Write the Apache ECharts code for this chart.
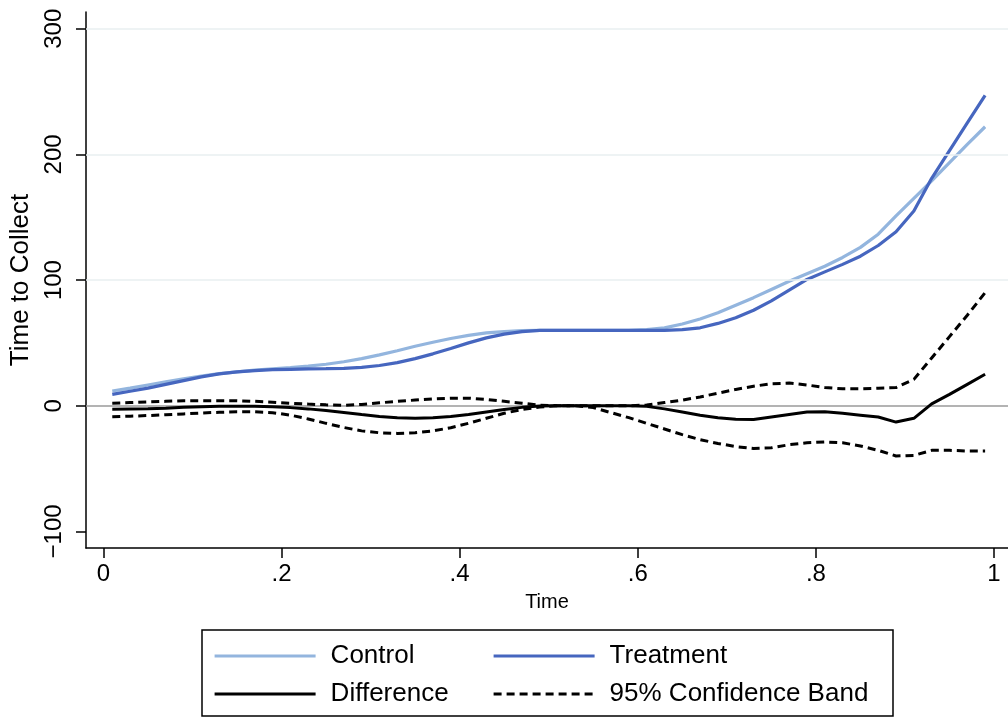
<!DOCTYPE html>
<html>
<head>
<meta charset="utf-8">
<title>Time to Collect</title>
<script src="https://cdn.jsdelivr.net/npm/echarts@6/dist/echarts.min.js"></script>
<style>
  html, body { margin: 0; padding: 0; background: #fff; }
  #chart { width: 1008px; height: 717px; }
</style>
</head>
<body>
<div id="chart"></div>
<script>
// Evaluation points on the time axis
const times = [0.01,0.03,0.05,0.07,0.09,0.11,0.13,0.15,0.17,0.19,
               0.21,0.23,0.25,0.27,0.29,0.31,0.33,0.35,0.37,0.39,
               0.41,0.43,0.45,0.47,0.49,0.51,0.53,0.55,0.57,0.59,
               0.61,0.63,0.65,0.67,0.69,0.71,0.73,0.75,0.77,0.79,
               0.81,0.83,0.85,0.87,0.89,0.91,0.93,0.95,0.97,0.99];

const control = [11.7,14,16.5,19,21.5,23.5,25.5,27,28.3,29.3,
                 30.3,31.5,33,35,37.5,40.5,43.8,47.3,50.5,53.5,
                 56,58,59,59.7,60,60,60,60,60,60,
                 60.5,62,65,69,74,80,86,92.5,99,105,
                 111,118,126,136.5,151,165,179,193.5,208,222];

const treatment = [9,11.5,14,17,20,23,25.3,27,28,28.7,
                   29,29.3,29.5,29.8,30.5,32,34.3,37.5,41.3,45.5,
                   50,54,57,59,60,60,60,60,60,60,
                   60,60,60.5,62,65.5,70,76,83.5,92,100.5,
                   106.5,112.5,119,127.5,138.5,155,181,203,225,247];

const difference = [-2.7,-2.5,-2.3,-2,-1.3,-0.8,-0.5,-0.4,-0.5,-0.8,
                    -1.5,-2.5,-3.8,-5.3,-7,-8.5,-9.5,-10,-9.5,-8.5,
                    -7,-5,-3,-1.3,-0.3,0,0,0,0,0,
                    -0.5,-2.5,-5,-7.5,-9.5,-10.8,-11,-9,-7,-5,
                    -4.8,-6,-7.5,-9,-13,-10,1.5,9,17,25];

const upperBand = [2,2.5,3,3.5,4,4,4,4,3.5,2.8,
                   2,1.3,0.7,0.3,1,2.3,3.5,4.5,5.5,6,
                   6,5,3.5,2,0.5,0,0,0,0,0,
                   0.5,2.5,4.5,7,10,13,15.5,17.5,18,16.5,
                   14.5,13.5,13.5,14,14.5,21,38,55,72,90];

const lowerBand = [-8.7,-8.3,-7.8,-7.2,-6.5,-5.8,-5.2,-4.8,-4.8,-5.5,
                   -7.5,-10.5,-14,-17.3,-20,-21.5,-22,-21.5,-20,-17.5,
                   -14,-10,-6,-3,-1,0,0,-1.5,-5.5,-9.5,
                   -14,-18.5,-23,-27,-30,-32.5,-34,-33.5,-31,-29.5,
                   -28.8,-29.5,-32,-35.5,-40,-39.5,-35.5,-35.5,-36,-36];

// Axis ticks and labels
const xTicks = [0, 0.2, 0.4, 0.6, 0.8, 1];
const xTickLabels = ['0', '.2', '.4', '.6', '.8', '1'];
const yTicks = [-100, 0, 100, 200, 300];
const yTickLabels = ['\u2212100', '0', '100', '200', '300'];
const yGridValues = [100, 200, 300];

const FONT = '"Liberation Sans", Arial, Helvetica, sans-serif';
const pair = (ys) => times.map((t, i) => [t, ys[i]]);

const chart = echarts.init(document.getElementById('chart'), null, { renderer: 'canvas' });

const axisLineStyle = { color: '#000', width: 1.5 };

const legendBase = {
  orient: 'vertical',
  top: 636,
  padding: 5,
  itemWidth: 101, itemHeight: 14, itemGap: 8,
  itemStyle: { opacity: 0 },
  lineStyle: { width: 3.2 },
  textStyle: { color: '#000', fontSize: 26, fontFamily: FONT, lineHeight: 30, padding: [0, 0, 0, 10] },
  selectedMode: false
};

const option = {
  backgroundColor: '#fff',
  animation: false,
  grid: { left: 86, top: 12, right: 0, bottom: 169, containLabel: false, outerBoundsMode: 'none' },
  xAxis: {
    type: 'value',
    min: -0.0195,
    max: 1.0157,
    axisLine: { show: true, onZero: false, lineStyle: axisLineStyle },
    axisTick: { show: true, length: 10, lineStyle: axisLineStyle, customValues: xTicks },
    axisLabel: {
      customValues: xTicks,
      formatter: (v) => xTickLabels[xTicks.indexOf(v)] ?? '',
      color: '#000', fontSize: 24, fontFamily: FONT, margin: 14
    },
    splitLine: { show: false },
    name: 'Time',
    nameLocation: 'middle',
    nameGap: 44,
    nameTextStyle: { color: '#000', fontSize: 20, fontFamily: FONT }
  },
  yAxis: {
    type: 'value',
    min: -113.2,
    max: 313.3,
    axisLine: { show: true, onZero: false, lineStyle: axisLineStyle },
    axisTick: { show: true, length: 10, lineStyle: axisLineStyle, customValues: yTicks },
    axisLabel: {
      customValues: yTicks,
      formatter: (v) => yTickLabels[yTicks.indexOf(v)] ?? '',
      rotate: 90,
      color: '#000', fontSize: 24, fontFamily: FONT, margin: 20
    },
    splitLine: { show: false },
    name: 'Time to Collect',
    nameLocation: 'middle',
    nameGap: 43,
    nameTextStyle: { color: '#000', fontSize: 26, fontFamily: FONT }
  },
  legend: [
    Object.assign({}, legendBase, { left: 208, data: ['Control', 'Difference'] }),
    Object.assign({}, legendBase, { left: 487, data: ['Treatment', '95% Confidence Band'] })
  ],
  graphic: [
    {
      type: 'rect',
      shape: { x: 202, y: 630, width: 691, height: 86 },
      style: { fill: 'none', stroke: '#000', lineWidth: 1.5 },
      silent: true
    }
  ],
  series: [
    {
      // reference lines: light grid and gray zero line
      name: '_ref',
      type: 'line',
      data: [],
      z: 1,
      silent: true,
      markLine: {
        silent: true,
        symbol: ['none', 'none'],
        label: { show: false },
        data: yGridValues.map(v => ({ yAxis: v, lineStyle: { color: '#e8eff1', width: 1.5, type: 'solid' } }))
              .concat([{ yAxis: 0, lineStyle: { color: '#9a9a9a', width: 1.5, type: 'solid' } }])
      }
    },
    {
      name: 'Control', type: 'line', data: pair(control), z: 3,
      symbol: 'none', smooth: false,
      lineStyle: { color: '#93b5de', width: 3.2 }, itemStyle: { color: '#93b5de' }
    },
    {
      name: 'Treatment', type: 'line', data: pair(treatment), z: 4,
      symbol: 'none', smooth: false,
      lineStyle: { color: '#4666bf', width: 3.2 }, itemStyle: { color: '#4666bf' }
    },
    {
      name: 'Difference', type: 'line', data: pair(difference), z: 5,
      symbol: 'none', smooth: false,
      lineStyle: { color: '#000', width: 3 }, itemStyle: { color: '#000' }
    },
    {
      name: '95% Confidence Band', type: 'line', data: pair(upperBand), z: 5,
      symbol: 'none', smooth: false,
      lineStyle: { color: '#000', width: 3, type: [8, 5] }, itemStyle: { color: '#000' }
    },
    {
      name: '95% Confidence Band', type: 'line', data: pair(lowerBand), z: 5,
      symbol: 'none', smooth: false,
      lineStyle: { color: '#000', width: 3, type: [8, 5] }, itemStyle: { color: '#000' }
    }
  ]
};

chart.setOption(option);
</script>
</body>
</html>
